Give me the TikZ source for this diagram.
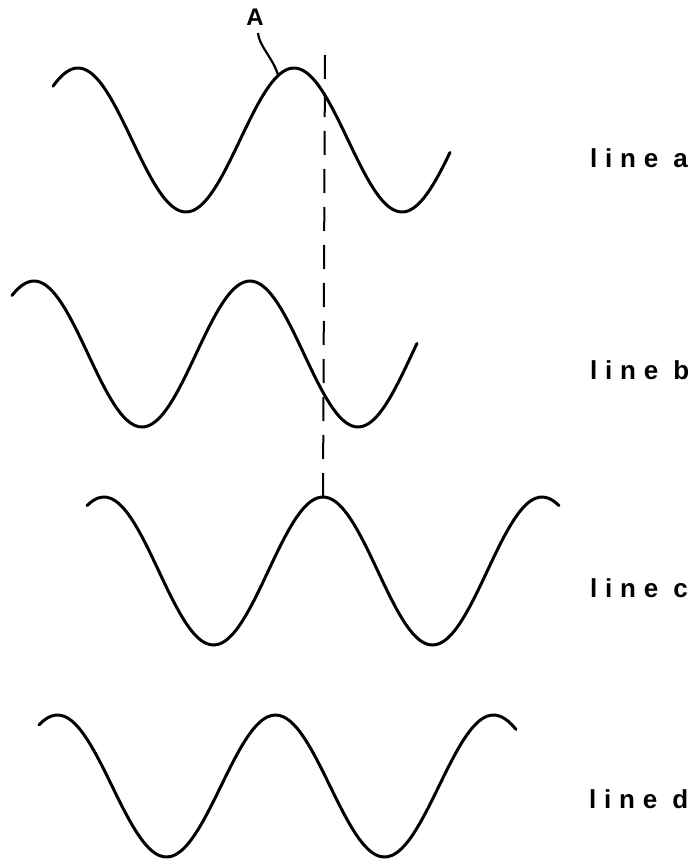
\documentclass[tikz,border=0pt]{standalone}
\usepackage{fontspec}
\newfontfamily\tagfont{Liberation Sans}[LetterSpace=30]
\usepackage{tikz}
\usetikzlibrary{positioning}

\begin{document}
\begin{tikzpicture}[x=1pt,y=-1pt,
    wave/.style={line width=3pt,line cap=round,smooth,samples=120},
    tag/.style={font=\tagfont\bfseries\fontsize{26}{29}\selectfont,inner sep=0pt,anchor=base west},
    guide/.style={line width=2pt,dash pattern=on 24pt off 14pt}]
    \useasboundingbox (0,0) rectangle (695,864);

    % the four traces
    \draw[wave] plot[domain=53:450] (\x,{140-72*cos((\x-294)/216*360)});
    \draw[wave] plot[domain=12:417] (\x,{354-73*cos((\x-250)/216*360)});
    \draw[wave] plot[domain=87:559] (\x,{571-74*cos((\x-323)/219*360)});
    \draw[wave] plot[domain=39:516] (\x,{786-71*cos((\x-275.5)/218*360)});

    \node[tag] (la) at (590,167) {line a};
    \node[tag] (lb) at (590,379) {line b};
    \node[tag] (lc) at (590,597) {line c};
    \node[tag] (ld) at (589,808) {line d};

    % point A on line a
    \node[tag,anchor=center,font=\tagfont\bfseries\fontsize{24}{27}\selectfont] (A) at (255,17.5) {A};
    \coordinate (Atip) at (278,75);
    \draw[line width=2.2pt] (A.south) ++(3,7) .. controls (259,46) and (273,58) .. (Atip);

    % dashed guide down to the crest of line c
    \coordinate (gtop) at (325,55);
    \coordinate (cpeak) at (323,497);
    \draw[guide] (gtop) -- (cpeak);
\end{tikzpicture}
\end{document}
